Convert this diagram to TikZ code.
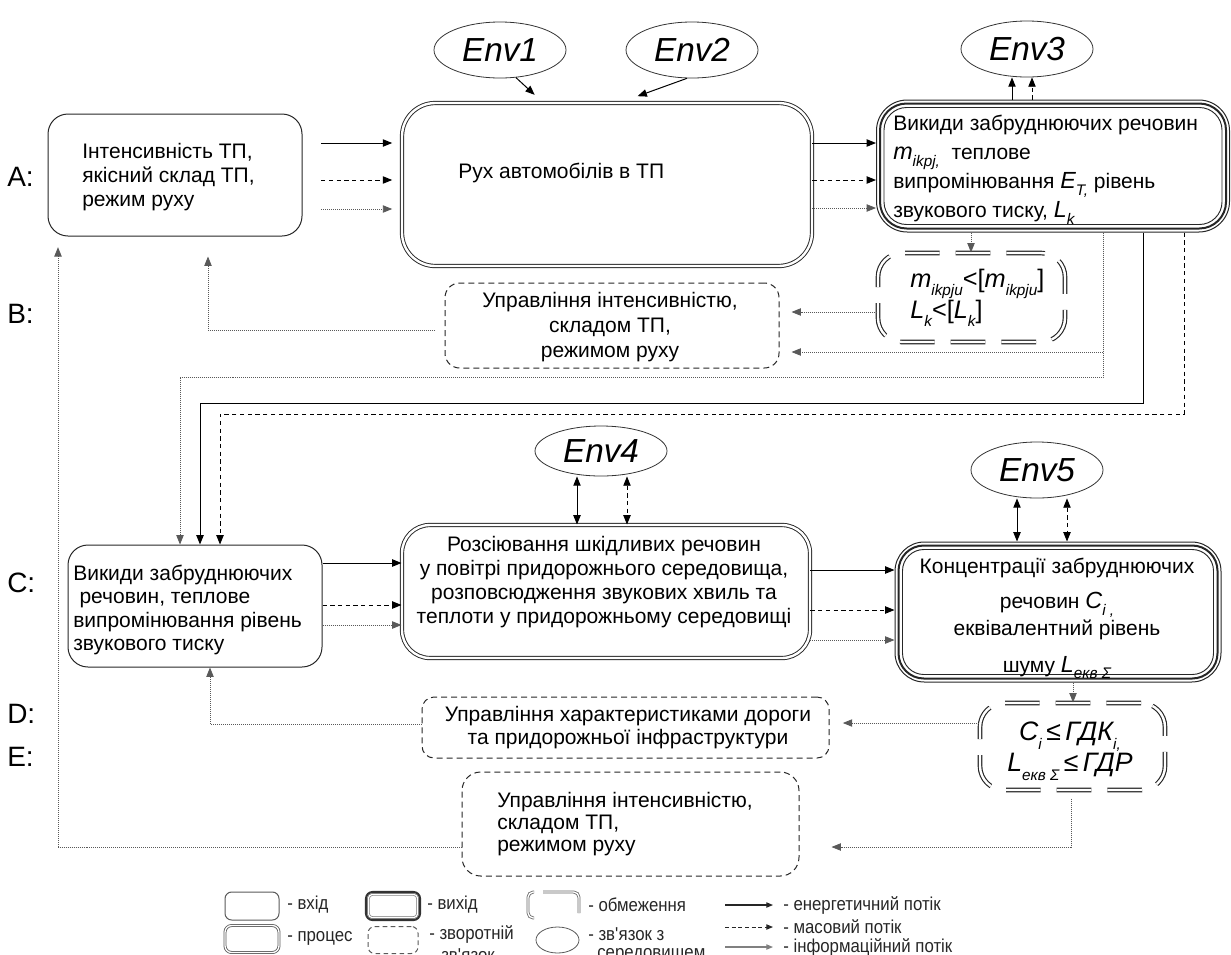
\documentclass[tikz,border=0pt]{standalone}
\usepackage{fontspec}
\setmainfont{Liberation Sans}
\newfontfamily\narrowfont[FakeStretch=0.9]{Liberation Sans}
\usetikzlibrary{arrows.meta,shapes.geometric}
\newdimen\pxu \pxu=0.75pt
\newcommand\bigv[1]{{\fontsize{17.5}{17.5}\selectfont\itshape #1}}
\newcommand\subv[1]{\raisebox{-0.6ex}{\fontsize{11.5}{11.5}\selectfont\itshape #1}}
\newcommand\triframe[3]{%
  \draw[black!85, line width=1.5pt, rounded corners=#2] ([shift={(3pt,-3pt)}]#1.north west) rectangle ([shift={(-3pt,3pt)}]#1.south east);
  \draw[black!85, line width=0.7pt, rounded corners=#3] ([shift={(6pt,-6pt)}]#1.north west) rectangle ([shift={(-6pt,6pt)}]#1.south east);}
\begin{document}
\begin{tikzpicture}[x=0.75pt,y=-0.75pt,
  font=\fontsize{15.75}{18}\selectfont,
  every node/.style={inner sep=0pt},
  inbox/.style={draw=black!85, line width=0.75pt, rounded corners=15pt},
  procbox/.style={draw=black!85, double, double distance=1.8pt, line width=0.7pt, rounded corners=#1},
  procbox/.default=24pt,
  outbox/.style={draw=black!85, line width=0.75pt, rounded corners=#1},
  outbox/.default=22pt,
  fbbox/.style={draw=black!85, line width=0.75pt, dash pattern=on 4.5pt off 3pt, rounded corners=12pt},
  constbox/.style={draw=black!85, double, double distance=1.8pt, line width=0.85pt, dash pattern=on 26pt off 12pt, rounded corners=18pt},
  envnode/.style={draw=black!80, ellipse, line width=0.6pt, minimum width=132\pxu, minimum height=56\pxu, font=\fontsize{25}{25}\selectfont\itshape},
  arrtip/.style={-{Triangle[length=7pt,width=5.5pt]}},
  ltip/.style={-{Triangle[length=5pt,width=4pt]}},
  energy/.style={arrtip, line width=0.75pt},
  mass/.style={arrtip, line width=0.7pt, dash pattern=on 3.2pt off 2.6pt},
  info/.style={arrtip, line width=0.6pt, black!65, dash pattern=on 0.75pt off 0.75pt},
  energy2/.style={{Triangle[length=7pt,width=5.5pt]}-{Triangle[length=7pt,width=5.5pt]}, line width=0.75pt},
  mass2/.style={energy2, line width=0.7pt, dash pattern=on 3.2pt off 2.6pt},
  lbl/.style={font=\fontsize{21}{21}\selectfont, anchor=west},
  legtext/.style={anchor=west, font=\narrowfont\fontsize{14}{14}\selectfont, text=black!85},
  legc/.style={draw=black!60, double, double distance=1pt, line width=0.6pt},
]
\useasboundingbox (0,0) rectangle (1231,954);

% row labels
\node[lbl] (LA) at (7,177) {A:};
\node[lbl] (LB) at (7,314) {B:};
\node[lbl] (LC) at (7,583) {C:};
\node[lbl] (LD) at (7,714) {D:};
\node[lbl] (LE) at (7,757) {E:};

% environment ellipses
\node[envnode] (Env1) at (500,50) {Env1};
\node[envnode] (Env2) at (692,50) {Env2};
\node[envnode] (Env3) at (1027,49) {Env3};
\node[envnode, minimum height=50\pxu] (Env4) at (601,451) {Env4};
\node[envnode] (Env5) at (1037,470) {Env5};

% row A
\node[inbox, minimum width=254\pxu, minimum height=122\pxu] (A) at (175,175) {};
\node[anchor=west, align=left] (At) at (82,177) {Інтенсивність ТП,\\якісний склад ТП,\\режим руху};

\node[procbox=25pt, minimum width=410\pxu, minimum height=163\pxu] (P1) at (607,184.5) {};
\node[anchor=west] (P1t) at (458,173) {Рух автомобілів в ТП};

\node[outbox=23pt, minimum width=353\pxu, minimum height=132\pxu] (O1) at (1053,166) {};
\triframe{O1}{20pt}{17pt}
\node[anchor=north west, align=left, font=\fontsize{15.75}{21.75}\selectfont] (O1t) at (893,115)
  {Викиди забруднюючих речовин\\
   \bigv{m}\subv{ikpj,}\ \ теплове\\
   випромінювання \bigv{E}\subv{T,} рівень\\
   звукового тиску, \bigv{L}\subv{k}};

\node[constbox, minimum width=187\pxu, minimum height=89\pxu] (K1) at (971.5,297.5) {};
\node[anchor=north west, align=left, font=\fontsize{19}{19.5}\selectfont\itshape] (K1t) at (910,269)
  {m\subv{ikpju}{\upshape<[}m\subv{ikpju}{\upshape]}\\L\subv{k}{\upshape<[}L\subv{k}{\upshape]}};

% row B
\node[fbbox, rounded corners=11pt, minimum width=334\pxu, minimum height=85\pxu] (B) at (612,325.5) {};
\node[align=center, font=\fontsize{15.75}{18.75}\selectfont] (Bt) at (610,327) {Управління інтенсивністю,\\складом ТП,\\режимом руху};

% row C
\node[inbox, minimum width=254\pxu, minimum height=122\pxu] (C) at (195,606) {};
\node[anchor=west, align=left, font=\fontsize{15.75}{17.6}\selectfont] (Ct) at (73,610)
  {Викиди забруднюючих\\\hspace*{0.3em}речовин, теплове\\випромінювання рівень\\звукового тиску};

\node[procbox=21pt, minimum width=408\pxu, minimum height=133\pxu] (P2) at (606,591.5) {};
\node[align=center, font=\fontsize{15.75}{17.8}\selectfont] (P2t) at (604,582)
  {Розсіювання шкідливих речовин\\у повітрі придорожнього середовища,\\розповсюдження звукових хвиль та\\теплоти у придорожньому середовищі};

\node[outbox=22pt, minimum width=326\pxu, minimum height=140\pxu] (O2) at (1058,612) {};
\triframe{O2}{19pt}{16pt}
\node[anchor=north, align=center, font=\fontsize{15.75}{20.25}\selectfont] (O2t) at (1057,558)
  {Концентрації забруднюючих\\[6pt]речовин \bigv{C}\subv{i ,}\\еквівалентний рівень\\[7pt]шуму \bigv{L}\subv{екв Σ}};

\node[constbox, minimum width=185\pxu, minimum height=87\pxu] (K2) at (1072.5,746.5) {};
\node[anchor=north, align=center, font=\fontsize{20}{23.25}\selectfont\itshape] (K2t) at (1070,722)
  {C\subv{i}\,{\upshape≤}\,ГДК\subv{i,}\\L\subv{екв Σ}\,{\upshape≤}\,ГДР};

% rows D, E
\node[fbbox, rounded corners=9pt, minimum width=407\pxu, minimum height=61\pxu] (D) at (625.5,727.5) {};
\node[align=center, font=\fontsize{15.75}{17.25}\selectfont] (Dt) at (628,728)
  {Управління характеристиками дороги\\та придорожньої інфраструктури};

\node[fbbox, rounded corners=14pt, minimum width=337\pxu, minimum height=104\pxu] (E) at (630.5,824) {};
\node[anchor=west, align=left, font=\fontsize{15.75}{16.8}\selectfont] (Et) at (497,824)
  {Управління інтенсивністю,\\складом ТП,\\режимом руху};

% ---------- connectors ----------
% A -> P1
\draw[energy, shorten <=14pt, shorten >=7pt] (A.east |- 0,143) -- (P1.west |- 0,143);
\draw[mass, shorten <=14pt, shorten >=7pt] (A.east |- 0,180) -- (P1.west |- 0,180);
\draw[info, shorten <=14pt, shorten >=7pt] (A.east |- 0,209) -- (P1.west |- 0,209);
% P1 -> O1
\draw[energy] (P1.east |- 0,143) -- (O1.west |- 0,143);
\draw[mass] (P1.east |- 0,180) -- (O1.west |- 0,180);
\draw[info] (P1.east |- 0,208) -- (O1.west |- 0,208);
% environments
\draw[energy, shorten >=8.5pt] (Env1.-60) -- (P1.north -| 543,0);
\draw[energy, shorten >=14pt] (Env2.-100) -- (P1.north -| 620,0);
\draw[energy] (O1.north -| 1012,0) -- (Env3.south -| 1012,0);
\draw[mass] (O1.north -| 1032,0) -- (Env3.south -| 1032,0);
% O1 -> K1 -> B
\draw[info] (O1.south -| 971,0) -- (K1.north -| 971,0);
\draw[info, shorten >=9pt] (K1.west |- 0,312) -- (B.east |- 0,312);
% O1 -> B, C
\draw[info, shorten >=9pt] (O1.south -| 1103,0) |- (B.east |- 0,352);
\draw[info] (O1.south -| 1103,0) -- (1103,377) -| (C.north -| 180,0);
\draw[energy] (O1.south -| 1143,0) -- (1143,403) -| (C.north -| 200,0);
\draw[mass] (O1.south -| 1184,0) -- (1184,414) -| (C.north -| 220,0);
% B -> A
\draw[info, shorten <=7pt, shorten >=15pt] (B.west |- 0,330) -| (A.south -| 208,0);
% E -> A
\draw[info, shorten >=8pt] (E.west |- 0,847) -| (A.south -| 58,0);
% C -> P2
\draw[energy] (C.east |- 0,563) -- (P2.west |- 0,563);
\draw[mass] (C.east |- 0,605) -- (P2.west |- 0,605);
\draw[info] (C.east |- 0,625) -- (P2.west |- 0,625);
% P2 <-> Env4
\draw[energy2] (Env4.south -| 577,0) -- (P2.north -| 577,0);
\draw[mass2] (Env4.south -| 627,0) -- (P2.north -| 627,0);
% P2 -> O2
\draw[energy] (P2.east |- 0,570) -- (O2.west |- 0,570);
\draw[mass] (P2.east |- 0,610) -- (O2.west |- 0,610);
\draw[info] (P2.east |- 0,640) -- (O2.west |- 0,640);
% O2 <-> Env5
\draw[energy2] (Env5.south -| 1017,0) -- (O2.north -| 1017,0);
\draw[mass2] (Env5.south -| 1067,0) -- (O2.north -| 1067,0);
% O2 -> K2 -> D, E
\draw[info] (O2.south -| 1073,0) -- (K2.north -| 1073,0);
\draw[info, shorten >=10pt] (K2.west |- 0,723) -- (D.east |- 0,723);
\draw[info, shorten <=6pt, shorten >=24pt] (K2.south -| 1071,0) |- (E.east |- 0,847);
% D -> C
\draw[info] (D.west |- 0,724) -| (C.south -| 210,0);

% ---------- legend ----------
\node[inbox, rounded corners=5pt, draw=black!65, minimum width=54\pxu, minimum height=28\pxu] (Lin) at (252,906) {};
\node[legtext] (LinT) at (287,905) {- вхід};
\node[draw=black!80, line width=1.6pt, rounded corners=5pt, minimum width=54\pxu, minimum height=28\pxu] (Lout) at (393,906) {};
\draw[black!55, double, double distance=0.9pt, line width=0.5pt, rounded corners=3pt] ([shift={(2.6pt,-2.6pt)}]Lout.north west) rectangle ([shift={(-2.6pt,2.6pt)}]Lout.south east);
\node[legtext] (LoutT) at (427,905) {- вихід};
\draw[legc, rounded corners=4pt] (534,892) -- (528,892) -- (528,918) -- (534,918);
\draw[legc, rounded corners=4pt] (543,892) -- (579,892) -- (579,913);
\draw[legc] (543,920) -- (572,920);
\node[legtext] (LconT) at (588,905) {- обмеження};
\coordinate (LeA) at (725,905); \coordinate (LeB) at (773,905);
\draw[ltip, line width=0.8pt, black!85] (LeA) -- (LeB);
\node[legtext] (LeT) at (783,905) {- енергетичний потік};

\node[procbox=5pt, draw=black!65, double distance=1pt, line width=0.6pt, minimum width=54\pxu, minimum height=27\pxu] (Lproc) at (252,939) {};
\node[legtext] (LprocT) at (287,938) {- процес};
\node[fbbox, rounded corners=5pt, dash pattern=on 3.5pt off 2.5pt, draw=black!65, minimum width=50\pxu, minimum height=27\pxu] (Lfb) at (393,940) {};
\node[legtext] (LfbT) at (429,934) {- зворотній};
\node[legtext] (LfbT2) at (441,955) {зв\textquotesingle язок};
\node[ellipse, draw=black!65, line width=0.6pt, minimum width=43\pxu, minimum height=26\pxu] (Lenv) at (557.5,940) {};
\node[legtext] (LenvT) at (588,934) {- зв\textquotesingle язок з};
\node[legtext] (LenvT2) at (597,955) {середовищем};
\coordinate (LmA) at (725,927); \coordinate (LmB) at (773,927);
\draw[ltip, line width=0.7pt, black!85, dash pattern=on 3pt off 2pt] (LmA) -- (LmB);
\node[legtext] (LmT) at (783,927) {- масовий потік};
\coordinate (LiA) at (725,947); \coordinate (LiB) at (773,947);
\draw[ltip, line width=0.8pt, black!50] (LiA) -- (LiB);
\node[legtext] (LiT) at (783,947) {- інформаційний потік};
\end{tikzpicture}
\end{document}
